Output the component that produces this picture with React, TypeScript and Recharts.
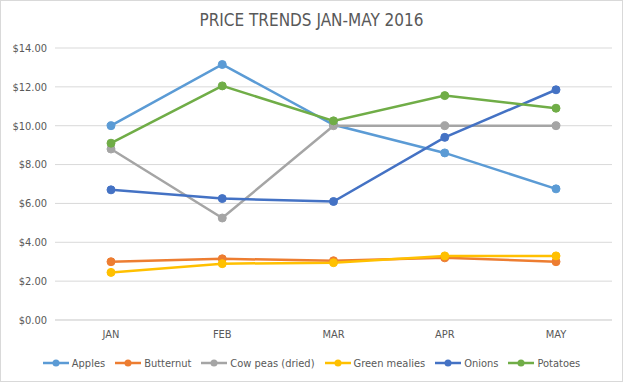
import React from 'react';
import { LineChart, Line, XAxis, YAxis, CartesianGrid, Legend } from 'recharts';

const months = ['JAN', 'FEB', 'MAR', 'APR', 'MAY'];
const apples = [10.0, 13.15, 10.05, 8.6, 6.75];
const butternut = [3.0, 3.15, 3.05, 3.2, 3.0];
const cowPeas = [8.8, 5.25, 10.0, 10.0, 10.0];
const greenMealies = [2.45, 2.9, 2.95, 3.3, 3.3];
const onions = [6.7, 6.25, 6.1, 9.4, 11.85];
const potatoes = [9.1, 12.05, 10.25, 11.55, 10.9];
const yTicks = [0, 2, 4, 6, 8, 10, 12, 14];

const series = [
  { key: 'apples', name: 'Apples', color: '#5B9BD5', values: apples },
  { key: 'butternut', name: 'Butternut', color: '#ED7D31', values: butternut },
  { key: 'cowPeas', name: 'Cow peas (dried)', color: '#A5A5A5', values: cowPeas },
  { key: 'greenMealies', name: 'Green mealies', color: '#FFC000', values: greenMealies },
  { key: 'onions', name: 'Onions', color: '#4472C4', values: onions },
  { key: 'potatoes', name: 'Potatoes', color: '#70AD47', values: potatoes },
];

const data = months.map((m, i) => {
  const row: any = { month: m };
  series.forEach((s) => (row[s.key] = s.values[i]));
  return row;
});

const FONT = "'DejaVu Sans Condensed', sans-serif";

const LegendContent = () => (
  <div style={{ display: 'flex', justifyContent: 'center', fontFamily: FONT, fontSize: 11, color: '#595959', height: 20, alignItems: 'center', paddingLeft: 10 }}>
    {series.map((s, i) => (
      <div key={s.key} style={{ display: 'flex', alignItems: 'center', marginLeft: i === 0 ? 0 : 10 }}>
        <svg width={26} height={10} style={{ marginRight: 3 }}>
          <line x1={0} y1={5} x2={26} y2={5} stroke={s.color} strokeWidth={2.5} />
          <circle cx={13} cy={5} r={3.5} fill={s.color} />
        </svg>
        <span>{s.name}</span>
      </div>
    ))}
  </div>
);

export default function App() {
  return (
    <div style={{ position: 'absolute', left: 0, top: 0, width: 621, height: 380, background: '#fff', border: '1px solid #d9d9d9' }}>
      <div style={{ position: 'absolute', top: 9, width: '100%', textAlign: 'center', fontFamily: FONT, fontSize: 17, color: '#595959' }}>
        PRICE TRENDS JAN-MAY 2016
      </div>
      <LineChart width={621} height={380} data={data} margin={{ top: 47, right: 10, left: 0, bottom: 8 }}>
        <CartesianGrid vertical={false} stroke="#d9d9d9" />
        <XAxis
          dataKey="month"
          tickLine={false}
          axisLine={{ stroke: '#d9d9d9' }}
          tick={{ fill: '#595959', fontSize: 11, fontFamily: FONT }}
          tickMargin={4}
          height={33}
          padding={{ left: 56, right: 56 }}
        />
        <YAxis
          domain={[0, 14]}
          ticks={yTicks}
          tickLine={false}
          axisLine={false}
          width={54}
          tick={{ fill: '#595959', fontSize: 11, fontFamily: FONT }}
          tickFormatter={(v: number) => `$${v.toFixed(2)}`}
        />
        <Legend verticalAlign="bottom" content={<LegendContent />} />
        {series.map((s) => (
          <Line
            key={s.key}
            type="linear"
            dataKey={s.key}
            name={s.name}
            stroke={s.color}
            strokeWidth={2.5}
            dot={{ r: 4, fill: s.color, stroke: s.color, strokeWidth: 1 }}
            isAnimationActive={false}
          />
        ))}
      </LineChart>
    </div>
  );
}
